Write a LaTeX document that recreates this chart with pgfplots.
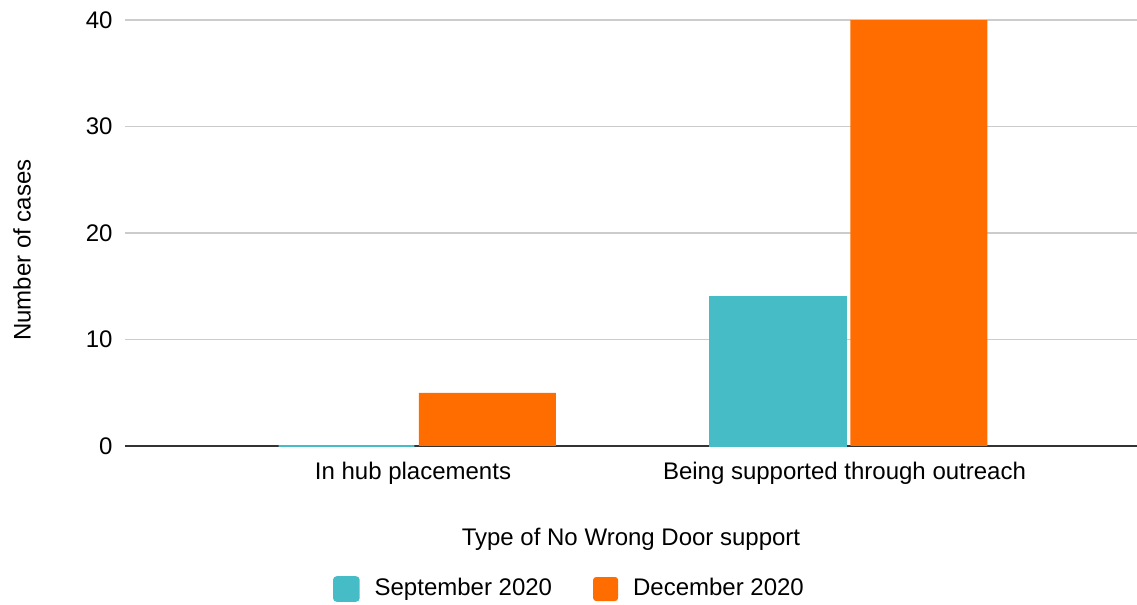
\documentclass[border=0pt]{standalone}
\usepackage{fontspec}
\setmainfont{Liberation Sans}
\usepackage{pgfplots}
\pgfplotsset{compat=1.18}
\definecolor{sepc}{HTML}{46BDC6}
\definecolor{decc}{HTML}{FF6D01}
\begin{document}
\fontsize{12pt}{14.4pt}\selectfont
\begin{tikzpicture}[font=\fontsize{12pt}{14.4pt}\selectfont]
\useasboundingbox (-62.5pt,-79.5pt) rectangle (506pt,223pt);
\begin{axis}[
  at={(0,0)}, anchor=south west,
  scale only axis, width=506pt, height=213pt,
  xmin=-0.6767, xmax=1.6686, ymin=0, ymax=40,
  clip=false,
  axis line style={draw=none},
  major tick length=0pt,
  /pgf/number format/assume math mode=true,
  xtick={0,1},
  xticklabels={In hub placements, Being supported through outreach},
  ytick={10,20,30,40},
  extra y ticks={0},
  extra y tick style={grid style={color=black!80, line width=0.75pt}},
  ymajorgrids,
  grid style={color=black!20, line width=0.75pt},
  xticklabel style={anchor=base, inner sep=0pt, yshift=-17pt, xshift=-2pt},
  yticklabel style={anchor=east, inner sep=0pt, xshift=-6pt},
  xlabel={Type of No Wrong Door support},
  ylabel={Number of cases},
  every axis x label/.style={at={(axis description cs:0.5,0)}, anchor=base, yshift=-49.5pt},
  every axis y label/.style={at={(axis description cs:-0.1018,0.4601)}, rotate=90, anchor=center},
  legend style={draw=none, fill=none, at={(axis description cs:0.4382,-0.3357)}, anchor=center,
    inner sep=0pt, outer sep=0pt, nodes={inner sep=0pt},
    /tikz/every odd column/.style={column sep=7.5pt},
    /tikz/every even column/.style={column sep=20.5pt}},
  legend columns=2, legend cell align=left,
  legend image code/.code={\fill[#1, rounded corners=1.5pt] (0pt,-6pt) rectangle (12.5pt,6pt);},
]
\addplot[ybar, bar width=67.8pt, bar shift=-35.25pt, fill=sepc, draw=sepc, line width=0.8pt] coordinates {(0,0) (1,14)};
\addplot[ybar, bar width=68.5pt, bar shift=35.25pt, fill=decc, draw=none] coordinates {(0,5) (1,40)};
\legend{September 2020, December 2020}
\end{axis}
\end{tikzpicture}
\end{document}
